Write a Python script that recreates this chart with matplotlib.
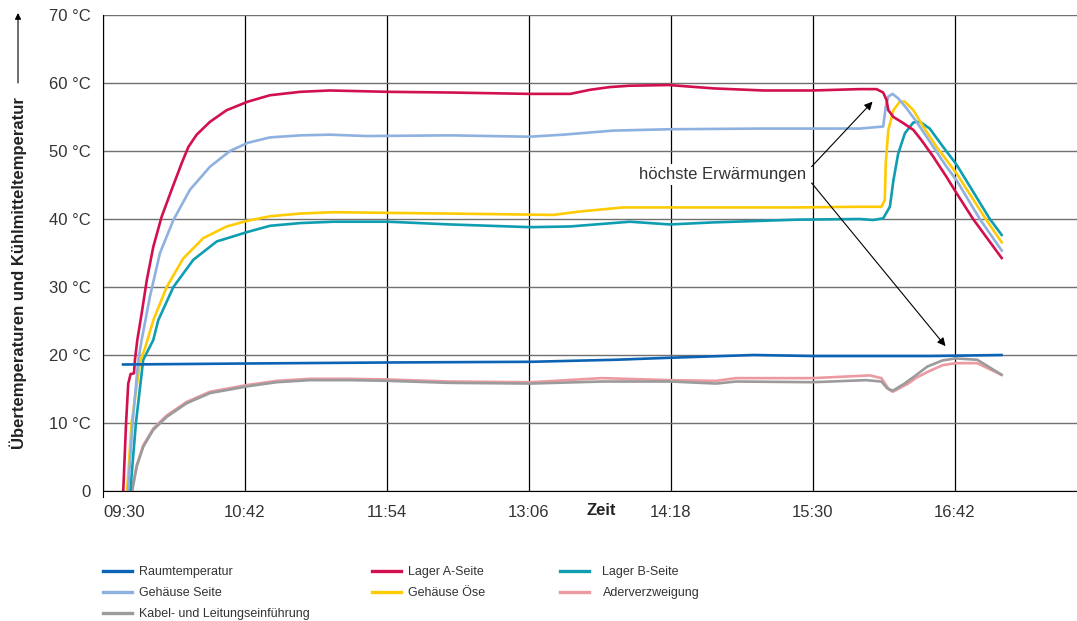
import matplotlib
matplotlib.use('Agg')
import matplotlib.pyplot as plt
import matplotlib.transforms as mtransforms
from matplotlib.lines import Line2D
from matplotlib.patches import FancyArrowPatch

plt.rcParams['font.family'] = ['Liberation Sans', 'DejaVu Sans']

# Zeit in Minuten nach 09:30
tick_pos = [0, 72, 144, 216, 288, 360, 432]
tick_labels = ['09:30', '10:42', '11:54', '13:06', '14:18', '15:30', '16:42']

y_ticks = [0, 10, 20, 30, 40, 50, 60, 70]
y_labels = ['0', '10 °C', '20 °C', '30 °C', '40 °C', '50 °C', '60 °C', '70 °C']

t_raum = [9.5, 73, 145, 217, 260, 288, 330, 360, 420, 456.4]
v_raum = [18.6, 18.75, 18.9, 19.0, 19.3, 19.6, 20.0, 19.85, 19.85, 20.0]

t_lager_a = [10.2, 11.7, 12.8, 14.0, 15.7, 16.2, 17.4, 19.6, 22.2, 25.5, 29.7, 34.8, 39.9,
             43.3, 47.5, 54.3, 62.7, 73.4, 84.7, 100, 115, 145, 176, 216, 237, 247, 257,
             267, 287, 310, 335, 360, 383.8, 392.3, 395.7, 397.4, 398.3, 400.9, 405.9,
             411, 415.1, 421, 427.8, 432.9, 441.3, 456.2]
v_lager_a = [-0.5, 10.0, 15.8, 17.2, 17.3, 19.3, 22.2, 26.1, 31.0, 35.9, 40.3, 44.3, 48.2,
             50.6, 52.4, 54.3, 56.0, 57.25, 58.2, 58.7, 58.9, 58.7, 58.6, 58.4, 58.4, 59.0, 59.4,
             59.6, 59.7, 59.2, 58.9, 58.9, 59.1, 59.1, 58.6, 57.5, 56.0, 55.0, 54.1,
             53.1, 51.6, 49.2, 46.2, 43.8, 40.0, 34.1]

t_lager_b = [13.7, 16.7, 20.4, 25.5, 28.0, 35.7, 45.8, 57.7, 73.4, 84.7, 100, 116.8, 144.7,
             176, 216.5, 236.8, 267.2, 287.5, 309.5, 351.7, 383.8, 390.6, 395.7, 399.1,
             400.9, 403.3, 406.7, 411, 414.3, 419.3, 426.1, 432.9, 449.8, 456.2]
v_lager_b = [-0.5, 10, 19.3, 22.2, 25.1, 30.0, 34.0, 36.7, 38.1, 39.0, 39.4, 39.6, 39.6,
             39.2, 38.8, 38.9, 39.6, 39.2, 39.5, 39.9, 40.0, 39.85, 40.1, 41.8,
             45.7, 49.6, 52.6, 54.2, 54.3, 53.3, 50.6, 48.0, 40.0, 37.5]

t_geh_seite = [12.6, 15.0, 17.9, 19.6, 23.8, 28.9, 35.7, 44.1, 54.3, 64.4, 73.4, 84.7, 100,
               115, 133.7, 176, 216.5, 233.4, 258.8, 287.5, 334.8, 383.8, 395.7, 397.0,
               398.3, 400.4, 403.3, 407.5, 412.6, 419.3, 427.8, 432.9, 444.7, 456.2]
v_geh_seite = [-0.5, 10, 19.3, 22.2, 28.6, 35.0, 39.85, 44.3, 47.7, 50.0, 51.2, 52.0, 52.3,
               52.4, 52.2, 52.3, 52.1, 52.4, 53.0, 53.2, 53.3, 53.3, 53.6, 56.5,
               58.0, 58.4, 57.75, 56.3, 54.3, 51.4, 47.7, 45.7, 40.0, 35.2]

t_geh_oese = [12.1, 14.5, 18.8, 21.3, 25.5, 32.3, 40.7, 50.9, 62.7, 73.4, 84.7, 100, 116.8,
              144.7, 176, 228.3, 241.9, 263.8, 301, 351.7, 383.8, 394.8, 396.5, 397.0,
              398.3, 400.9, 404.1, 406.7, 411, 416, 422.8, 432.9, 447.7, 456.2]
v_geh_oese = [-0.5, 10, 19.0, 21.0, 25.1, 30.0, 34.2, 37.2, 38.9, 39.75, 40.4, 40.8, 41.0,
              40.9, 40.8, 40.6, 41.1, 41.7, 41.7, 41.7, 41.8, 41.8, 42.8, 48.2,
              53.1, 56.0, 57.25, 57.25, 56.0, 53.6, 50.6, 46.7, 40.0, 36.4]

t_ader = [14.2, 17.1, 20.4, 25.5, 32.3, 42.4, 54.3, 73.4, 88.1, 105, 125.2, 144.7, 176, 217,
          253, 288, 311, 321, 360, 389, 394.8, 398.7, 400.6, 408.4, 412.2, 418.1, 425.8,
          432.3, 443.4, 456.3]
v_ader = [-0.5, 3.8, 6.7, 9.2, 11.1, 13.1, 14.6, 15.6, 16.2, 16.5, 16.5, 16.4, 16.1, 16.0,
          16.6, 16.3, 16.2, 16.6, 16.6, 17.0, 16.6, 14.9, 14.6, 15.8, 16.6, 17.5, 18.5,
          18.8, 18.8, 17.0]

t_kabel = [14.5, 17.1, 20.4, 25.5, 32.3, 42.4, 54.3, 73.4, 88.1, 105, 125.2, 144.7, 176,
           217, 253, 288, 311, 321, 360, 387, 394.8, 397.7, 400.6, 406.5, 412.2, 418.1,
           425.8, 432.3, 443.4, 456.3]
v_kabel = [-0.5, 3.6, 6.5, 9.0, 10.9, 12.9, 14.4, 15.4, 16.0, 16.3, 16.3, 16.2, 15.9,
           15.8, 16.1, 16.1, 15.8, 16.1, 16.0, 16.3, 16.1, 15.1, 14.75, 15.8, 17.0, 18.3,
           19.2, 19.5, 19.3, 17.0]

c_raum = '#0b63b3'
c_lager_a = '#d2104e'
c_lager_b = '#0f9db2'
c_geh_seite = '#8eb1e0'
c_geh_oese = '#ffcb05'
c_ader = '#eb9aa2'
c_kabel = '#9b9b9b'

fig = plt.figure(figsize=(10.77, 6.21), dpi=100)
ax = fig.add_axes([103 / 1077, 130 / 621, 974 / 1077, 476 / 621])

lw = 1.9
series = [
    (t_ader, v_ader, c_ader),
    (t_kabel, v_kabel, c_kabel),
    (t_lager_b, v_lager_b, c_lager_b),
    (t_geh_oese, v_geh_oese, c_geh_oese),
    (t_geh_seite, v_geh_seite, c_geh_seite),
    (t_lager_a, v_lager_a, c_lager_a),
    (t_raum, v_raum, c_raum),
]
for t, v, c in series:
    ax.plot(t, v, color=c, lw=lw, solid_joinstyle='round', solid_capstyle='butt')

ax.set_xlim(0, 494)
ax.set_ylim(0, 70)
ax.set_xticks(tick_pos)
ax.set_xticklabels(tick_labels)
ax.set_yticks(y_ticks)
ax.set_yticklabels(y_labels)
ax.get_xticklabels()[0].set_ha('left')
ax.tick_params(axis='both', length=0, labelsize=12, labelcolor='#333333')
ax.tick_params(axis='x', pad=10)
ax.tick_params(axis='y', pad=9)

ax.yaxis.grid(True, color='#707070', lw=1.0)
ax.xaxis.grid(True, color='black', lw=0.9)
ax.set_axisbelow(True)
for s in ['top', 'right']:
    ax.spines[s].set_visible(False)
ax.spines['left'].set_color('black')
ax.spines['bottom'].set_color('black')
ax.spines['left'].set_bounds(-0.9, 70)

trans = mtransforms.blended_transform_factory(ax.transData, ax.transAxes)
ax.text(252.5, -0.042, 'Zeit', transform=trans, ha='center', va='center',
        fontsize=12, fontweight='bold', color='#222222')

fig.text(18 / 1077, 1 - 273 / 621, 'Übertemperaturen und Kühlmitteltemperatur',
         rotation=90, ha='center', va='center', fontsize=12, fontweight='bold',
         color='#222222')
fig.add_artist(FancyArrowPatch(
    (18 / 1077, 1 - 83 / 621), (18 / 1077, 1 - 13 / 621),
    transform=fig.transFigure, arrowstyle='-|>', mutation_scale=9,
    lw=0.8, color='black', shrinkA=0, shrinkB=0))

# Annotation
ax.text(314, 46.5, 'höchste Erwärmungen', ha='center', va='center', fontsize=12,
        color='#333333', bbox=dict(facecolor='white', edgecolor='none', pad=2))
arrow = dict(arrowstyle='-|>', lw=0.8, color='black', mutation_scale=12,
             shrinkA=0, shrinkB=0)
ax.annotate('', xy=(390.3, 57.25), xytext=(359.4, 47.7), arrowprops=arrow)
ax.annotate('', xy=(427.3, 21.3), xytext=(359.4, 45.3), arrowprops=arrow)

# Legende
def handle(c):
    return Line2D([], [], color=c, lw=2.4)

legend_cols = [
    ([c_raum, c_geh_seite, c_kabel],
     ['Raumtemperatur', 'Gehäuse Seite', 'Kabel- und Leitungseinführung'], 103, 0.55),
    ([c_lager_a, c_geh_oese], ['Lager A-Seite', 'Gehäuse Öse'], 372, 0.6),
    ([c_lager_b, c_ader], ['Lager B-Seite', 'Aderverzweigung'], 560, 1.1),
]
for cols, labels, x0, pad in legend_cols:
    leg = fig.legend([handle(c) for c in cols], labels, loc='upper left',
                     bbox_to_anchor=(x0 / 1077, 1 - 566 / 621), frameon=False,
                     fontsize=9, handlelength=2.3, handletextpad=pad,
                     borderpad=0, borderaxespad=0, labelspacing=0.72)
    for txt in leg.get_texts():
        txt.set_color('#333333')

fig.savefig('out.png', dpi=100)
